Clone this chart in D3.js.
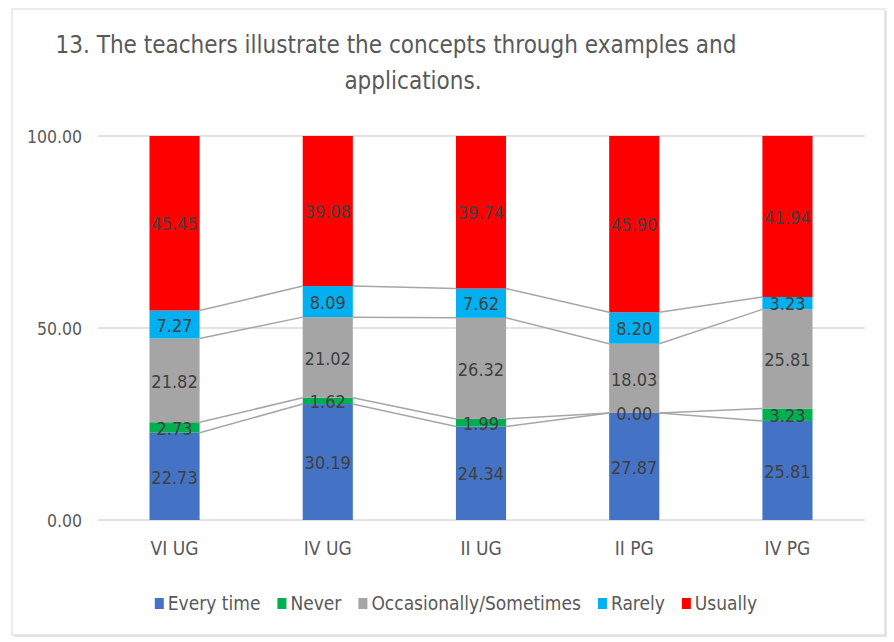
<!DOCTYPE html>
<html>
<head>
<meta charset="utf-8">
<script src="https://cdn.jsdelivr.net/npm/d3@7"></script>
<style>
  body { margin: 0; background: #fff; }
  svg text { font-family: 'Liberation Sans Narrow', 'DejaVu Sans Condensed', sans-serif; }
</style>
</head>
<body>
<div id="chart"></div>
<script>
const groups = ['VI UG', 'IV UG', 'II UG', 'II PG', 'IV PG'];
const seriesNames = ['Every time', 'Never', 'Occasionally/Sometimes', 'Rarely', 'Usually'];
const everyTime = [22.73, 30.19, 24.34, 27.87, 25.81];
const never = [2.73, 1.62, 1.99, 0.0, 3.23];
const occasionally = [21.82, 21.02, 26.32, 18.03, 25.81];
const rarely = [7.27, 8.09, 7.62, 8.2, 3.23];
const usually = [45.45, 39.08, 39.74, 45.9, 41.94];
const yTicks = [0, 50, 100];
const titleLines = ['13. The teachers illustrate the concepts through examples and', 'applications.'];

const colors = ['#4472C4', '#00B050', '#A5A5A5', '#00B0F0', '#FF0000'];
const w = 894;
const h = 642;

const rows = groups.map((g, i) => ({
  group: g,
  'Every time': everyTime[i],
  'Never': never[i],
  'Occasionally/Sometimes': occasionally[i],
  'Rarely': rarely[i],
  'Usually': usually[i]
}));
const stacked = d3.stack().keys(seriesNames)(rows);

const x = d3.scaleBand().domain(groups).range([98, 864]).paddingInner(0.673).paddingOuter(0.336);
const y = d3.scaleLinear().domain([0, 100]).range([520, 136]);

const svg = d3.select('#chart').append('svg').attr('width', w).attr('height', h);

// chart frame with a soft shadow
svg.append('rect').attr('x', 14).attr('y', 11).attr('width', 873).attr('height', 626)
  .attr('fill', '#e6e6e6');
svg.append('rect').attr('x', 12).attr('y', 9).attr('width', 873).attr('height', 626)
  .attr('fill', '#fff').attr('stroke', '#d9d9d9').attr('stroke-width', 1);

// title
svg.append('g').selectAll('text').data(titleLines).enter().append('text')
  .attr('x', (d, i) => i === 0 ? 396 : 413)
  .attr('y', (d, i) => 53 + i * 36)
  .attr('text-anchor', 'middle')
  .attr('fill', '#595959')
  .style('font-size', '24px')
  .text(d => d);

// gridlines
svg.append('g').selectAll('line').data(yTicks).enter().append('line')
  .attr('x1', 98).attr('x2', 865)
  .attr('y1', d => y(d)).attr('y2', d => y(d))
  .attr('stroke', '#d9d9d9').attr('stroke-width', 1.5);

// y axis labels
const yAxis = d3.axisLeft(y).tickValues(yTicks).tickFormat(d3.format('.2f')).tickSize(0).tickPadding(16);
const yg = svg.append('g').attr('transform', 'translate(98,0)').call(yAxis);
yg.select('.domain').remove();
yg.selectAll('text').attr('fill', '#595959').style('font-size', '17.5px').attr('dy', '0.35em');

// bars
const bw = x.bandwidth();
svg.append('g').selectAll('g').data(stacked).enter().append('g')
  .attr('fill', (d, i) => colors[i])
  .selectAll('rect').data(d => d).enter().append('rect')
  .attr('x', d => x(d.data.group))
  .attr('y', d => y(d[1]))
  .attr('width', bw)
  .attr('height', d => y(d[0]) - y(d[1]));

// series lines (top of the last series sits on the 100 gridline)
const sl = svg.append('g').attr('stroke', '#a6a6a6').attr('stroke-width', 1.5).attr('fill', 'none');
stacked.slice(0, -1).forEach(s => {
  for (let i = 0; i < groups.length - 1; i++) {
    sl.append('line')
      .attr('x1', x(groups[i]) + bw).attr('y1', y(s[i][1]))
      .attr('x2', x(groups[i + 1])).attr('y2', y(s[i + 1][1]));
  }
});

// data labels
svg.append('g').selectAll('g').data(stacked).enter().append('g')
  .selectAll('text').data(d => d.map(p => ({ p, v: p.data[d.key] }))).enter().append('text')
  .attr('x', d => x(d.p.data.group) + bw / 2)
  .attr('y', d => y((d.p[0] + d.p[1]) / 2))
  .attr('dy', '0.4em')
  .attr('text-anchor', 'middle')
  .attr('fill', '#404040')
  .style('font-size', '18px')
  .text(d => d.v.toFixed(2));

// x axis labels
const xAxis = d3.axisBottom(x).tickSize(0).tickPadding(22);
const xg = svg.append('g').attr('transform', 'translate(0,520)').call(xAxis);
xg.select('.domain').remove();
xg.selectAll('text').attr('fill', '#595959').style('font-size', '19px');

// legend
const legend = svg.append('g');
let lx = 0;
seriesNames.forEach((name, i) => {
  const item = legend.append('g').attr('transform', `translate(${lx},0)`);
  item.append('rect').attr('x', 0).attr('y', -5).attr('width', 9).attr('height', 11).attr('fill', colors[i]);
  const t = item.append('text').attr('x', 13).attr('y', 0).attr('dy', '0.35em')
    .attr('fill', '#595959').style('font-size', '19px').text(name);
  lx += 13 + t.node().getComputedTextLength() + 17;
});
lx -= 17;
legend.attr('transform', `translate(${456 - lx / 2},603)`);
</script>
</body>
</html>
